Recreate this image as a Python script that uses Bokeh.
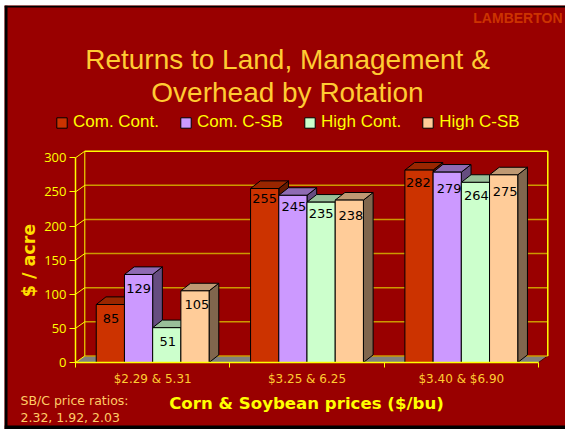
from bokeh.embed import file_html
from bokeh.resources import INLINE
from bokeh.plotting import figure
from bokeh.models import FixedTicker, Label, Legend, LegendItem, ColumnDataSource, Range1d, Span
from bokeh.core.properties import value
import math

groups = ["$2.29 & 5.31", "$3.25 & 6.25", "$3.40 & $6.90"]
series_names = ["Com. Cont.", "Com. C-SB", "High Cont.", "High C-SB"]
com_cont = [85, 255, 282]
com_csb = [129, 245, 279]
high_cont = [51, 235, 264]
high_csb = [105, 238, 275]
y_ticks = [0, 50, 100, 150, 200, 250, 300]
front_colors = ["#CC3300", "#CC99FF", "#CCFFCC", "#FFCC99"]
top_colors = ["#992600", "#8F6BB3", "#99BF99", "#BF9973"]
side_colors = ["#661A00", "#664D80", "#668066", "#80664D"]
# fine position of the value labels (px right, px down from the bar top)
label_dx = [[0.7, 0, 1, 2], [0, 1, 0, 1.5], [-0.7, 2, 1, 1.5]]
label_dy = [[14, 14, 14, 14], [10, 11, 11, 15], [12, 16, 13, 17]]

YEL = "#FFFF00"
GOLD = "#FFCC33"
GRID = "#CC9900"
BG = "#990000"

ORG_X, ORG_Y = 4, 5                # top-left of the canvas on the page
CANVAS_W, CANVAS_H = 561, 424
AX_X, AX_Y = 75, 362               # page pixel of the data origin
PX_X = 154.33
PX_Y = (362 - 157.3) / 300
bar_w = 0.1828
start = (1 - 4 * bar_w) / 2
wall_dx, wall_dy = 9.3 / PX_X, 6.6 / PX_Y
bar_dx, bar_dy = 9.7 / PX_X, 7.6 / PX_Y

p = figure(width=CANVAS_W, height=CANVAS_H, output_backend="svg", toolbar_location=None,
           x_range=Range1d((ORG_X - AX_X) / PX_X, (ORG_X + CANVAS_W - AX_X) / PX_X),
           y_range=Range1d((AX_Y - ORG_Y - CANVAS_H) / PX_Y, (AX_Y - ORG_Y) / PX_Y),
           min_border=0)
p.styles = {"position": "absolute", "left": f"{ORG_X}px", "top": f"{ORG_Y}px"}
p.background_fill_color = BG
p.border_fill_color = BG
p.outline_line_color = None
p.grid.visible = False

# axes
ya = p.yaxis[0]
ya.fixed_location = 0
ya.ticker = FixedTicker(ticks=y_ticks)
ya.bounds = (0, 300)
ya.axis_line_color = YEL
ya.axis_line_width = 1.5
ya.major_tick_line_color = YEL
ya.major_tick_in = 0
ya.major_tick_out = 6
ya.minor_tick_line_color = None
ya.major_label_text_color = YEL
ya.major_label_text_font = "Open Sans"
ya.major_label_text_font_size = "13px"
ya.major_label_standoff = 3

xa = p.xaxis[0]
xa.fixed_location = 0
centers = [i + 0.5 for i in range(len(groups))]
xa.ticker = FixedTicker(ticks=centers, minor_ticks=list(range(len(groups) + 1)))
xa.major_label_overrides = dict(zip(centers, groups))
xa.bounds = (0, 3)
xa.axis_line_color = YEL
xa.axis_line_width = 1.5
xa.major_tick_line_color = None
xa.major_tick_in = 0
xa.major_tick_out = 0
xa.minor_tick_line_color = YEL
xa.minor_tick_in = 0
xa.minor_tick_out = 5
xa.major_label_text_color = GOLD
xa.major_label_text_font = "DejaVu Sans"
xa.major_label_text_font_size = "12px"
xa.major_label_standoff = 4

# walls and floor
p.patch([0, 3, 3 + wall_dx, wall_dx], [0, 0, wall_dy, wall_dy], fill_color="#808080", line_color=None)
p.line([3, 3 + wall_dx], [0, wall_dy], line_color="#4D0000", line_width=1)
for t in y_ticks[:-1]:
    p.line([wall_dx, 3 + wall_dx], [t + wall_dy, t + wall_dy], line_color=GRID, line_width=1.5)
for t in y_ticks:
    p.line([0, wall_dx], [t, t + wall_dy], line_color=YEL, line_width=1)
p.line([wall_dx, wall_dx], [wall_dy, 300 + wall_dy], line_color=YEL, line_width=1)
p.line([3 + wall_dx, 3 + wall_dx], [wall_dy, 300 + wall_dy], line_color=YEL, line_width=1.5)
p.line([wall_dx, 3 + wall_dx], [300 + wall_dy, 300 + wall_dy], line_color=YEL, line_width=1.5)

# bars, drawn from left to right
all_series = [com_cont, com_csb, high_cont, high_csb]
legend_items = []
fronts = [[] for _ in all_series]
for g in range(len(groups)):
    for s, vals in enumerate(all_series):
        v = vals[g]
        x0 = g + start + s * bar_w
        x1 = x0 + bar_w
        p.patch([x1, x1 + bar_dx, x1 + bar_dx, x1], [0, bar_dy, v + bar_dy, v],
                fill_color=side_colors[s], line_color="#000000", line_width=1)
        p.patch([x0, x1, x1 + bar_dx, x0 + bar_dx], [v, v, v + bar_dy, v + bar_dy],
                fill_color=top_colors[s], line_color="#000000", line_width=1)
        r = p.quad(left=[x0], right=[x1], bottom=[0], top=[v],
                   fill_color=front_colors[s], line_color="#000000", line_width=1)
        fronts[s].append(r)
for s, name in enumerate(series_names):
    legend_items.append(LegendItem(label=value(name), renderers=[fronts[s][0]]))

# value labels
lx, ly, lt, ldx, ldy = [], [], [], [], []
for g in range(len(groups)):
    for s, vals in enumerate(all_series):
        lx.append(g + start + (s + 0.5) * bar_w)
        ly.append(vals[g])
        lt.append(str(vals[g]))
        ldx.append(label_dx[g][s])
        ldy.append(label_dy[g][s])
src = ColumnDataSource(dict(x=lx, y=ly, t=lt, dx=ldx, dy=ldy))
p.text(x="x", y="y", text="t", x_offset="dx", y_offset="dy", source=src, text_align="center",
       text_baseline="middle", text_color="#000000", text_font=value("DejaVu Sans"),
       text_font_size="13px")

# black frame of the slide: left, top and bottom
p.add_layout(Span(location=1.5, dimension="height", location_units="screen", line_color="#000000", line_width=3))
p.add_layout(Span(location=CANVAS_H - 1, dimension="width", location_units="screen", line_color="#000000", line_width=2))
p.add_layout(Span(location=2, dimension="width", location_units="screen", line_color="#000000", line_width=4))

# legend
FRAME_B = ORG_Y + CANVAS_H
leg = Legend(items=legend_items, orientation="horizontal", location=(55 - ORG_X, FRAME_B - 132),
             glyph_width=13, glyph_height=13, label_standoff=5, spacing=20, padding=0, margin=0,
             background_fill_alpha=0, border_line_color=None,
             label_text_color=YEL, label_text_font="Liberation Sans", label_text_font_size="17px",
             label_height=13)
p.add_layout(leg, "center")


def put(text, px, py, color, font, size, style="normal", align="left", angle=0):
    p.add_layout(Label(x=px - ORG_X, y=FRAME_B - py, x_units="screen", y_units="screen", text=text,
                       text_color=color, text_font=font, text_font_size=size, text_font_style=style,
                       text_align=align, text_baseline="middle", angle=angle))


put("LAMBERTON", 562, 17, "#CC3300", "Liberation Sans", "14px", "bold", "right")
put("Returns to Land, Management &", 287, 59, GOLD, "Liberation Sans", "28px", "normal", "center")
put("Overhead by Rotation", 287, 92, GOLD, "Liberation Sans", "28px", "normal", "center")
put("$ / acre", 28, 260, "#FFDD00", "DejaVu Sans", "17.5px", "bold", "center", math.pi / 2)
put("Corn & Soybean prices ($/bu)", 306, 403, YEL, "DejaVu Sans", "16.6px", "bold", "center")
put("SB/C price ratios:", 20, 400, "#FFCC66", "DejaVu Sans", "12.5px")
put("2.32, 1.92, 2.03", 20, 417, "#FFCC66", "DejaVu Sans", "12.5px")

open("out.html", "w").write(file_html(p, INLINE))
